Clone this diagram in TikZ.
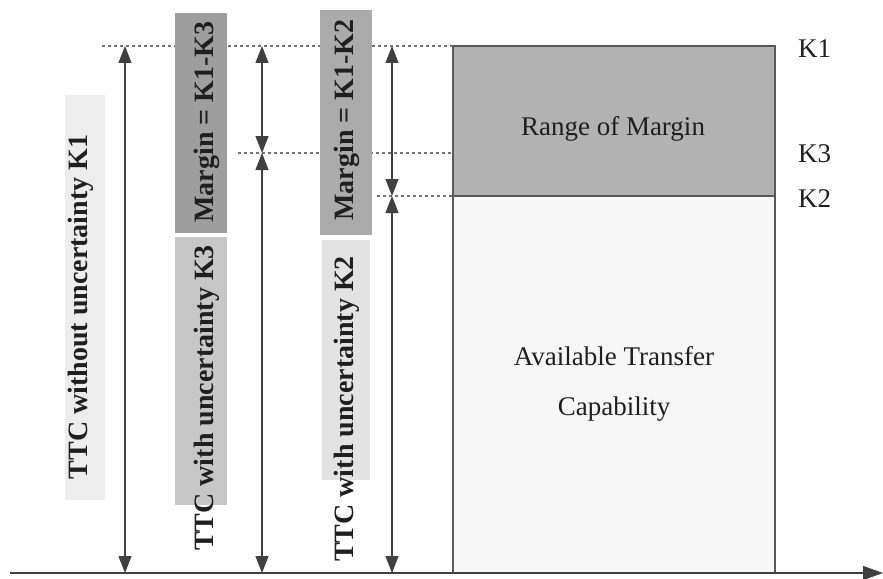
\documentclass[tikz,border=0pt]{standalone}
\usepackage{fontspec}
\setmainfont{Liberation Serif}
\usetikzlibrary{arrows.meta}
\tikzset{
  dimline/.style={line width=1.2pt, draw=black!75, {Triangle[length=17pt,width=13pt]}-{Triangle[length=17pt,width=13pt]}},
  guide/.style={line width=1.3pt, draw=black!55, dash pattern=on 3pt off 3pt},
  regtext/.style={font=\fontsize{27}{32}\selectfont, text=black!88, inner sep=0pt},
  boldlbl/.style={font=\fontsize{28}{32}\selectfont\bfseries, text=black!88, inner sep=0pt, rotate=90},
  klabel/.style={font=\fontsize{27}{32}\selectfont, text=black!88, inner sep=0pt, anchor=base west},
  lblbg/.style={draw=none}
}
\begin{document}
\begin{tikzpicture}[x=1pt,y=-1pt]
\useasboundingbox (0,0) rectangle (883,578);
% level coordinates
\coordinate (g1s) at (102,46);
\coordinate (g3s) at (238,153);
\coordinate (g2s) at (377,196);
\coordinate (rtl) at (453,46);
\coordinate (rk3) at (453,153);
\coordinate (rk2) at (453,196);
\coordinate (rbr) at (775,573);
\coordinate (rk2r) at (775,196);
% guide lines
\draw[guide] (g1s) -- (rtl);
\draw[guide] (g3s) -- (rk3);
\draw[guide] (g2s) -- (rk2);
% label backgrounds
\fill[lblbg, black!7] (65,95) rectangle (105,500);
\fill[lblbg, black!38] (175,13) rectangle (227,233);
\fill[lblbg, black!22] (175,237) rectangle (227,505);
\fill[lblbg, black!33] (320,10) rectangle (372,235);
\fill[lblbg, black!11] (322,240) rectangle (370,480);
% boxes
\draw[line width=1.3pt, draw=black!65, fill=black!30] (rtl) rectangle (rk2r);
\draw[line width=1.3pt, draw=black!65, fill=black!3] (rk2) rectangle (rbr);
\node[regtext, anchor=base] (rom) at (613,135) {Range of Margin};
\node[regtext, anchor=base] (atc1) at (614,365) {Available Transfer};
\node[regtext, anchor=base] (atc2) at (614,415) {Capability};
% level labels
\node[klabel] (k1) at (798,57) {K1};
\node[klabel] (k3) at (798,162) {K3};
\node[klabel] (k2) at (798,207) {K2};
% arrow coordinates
\coordinate (a1t) at (125,46);
\coordinate (a1b) at (125,573);
\coordinate (a2t) at (262,46);
\coordinate (a2m) at (262,153);
\coordinate (a2b) at (262,573);
\coordinate (a3t) at (392,46);
\coordinate (a3m) at (392,196);
\coordinate (a3b) at (392,573);
\draw[dimline] (a1t) -- (a1b);
\draw[dimline] (a2t) -- (a2m);
\draw[dimline] (a2m) -- (a2b);
\draw[dimline] (a3t) -- (a3m);
\draw[dimline] (a3m) -- (a3b);
% rotated labels
\node[boldlbl] (ttc1) at (81,307) {TTC without uncertainty K1};
\node[boldlbl] (m13) at (207,122) {Margin = K1-K3};
\node[boldlbl] (ttc3) at (207,398) {TTC with uncertainty K3};
\node[boldlbl] (m12) at (347,120) {Margin = K1-K2};
\node[boldlbl] (ttc2) at (347,409) {TTC with uncertainty K2};
% axis
\coordinate (ax0) at (10,573);
\coordinate (ax1) at (883,573);
\draw[line width=1.3pt, draw=black!75, -{Triangle[length=20pt,width=14pt]}] (ax0) -- (ax1);
\end{tikzpicture}
\end{document}
